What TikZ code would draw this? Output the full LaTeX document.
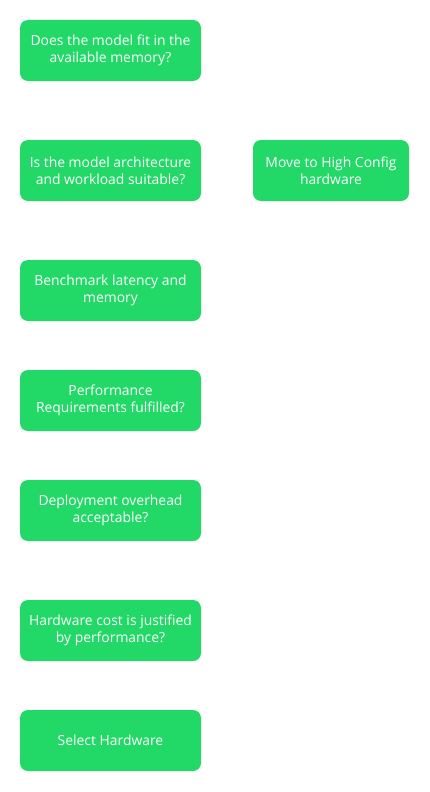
\documentclass[tikz,border=0pt]{standalone}
\usepackage{fontspec}
\setmainfont{Open Sans}
\usepackage{xcolor}
\usetikzlibrary{positioning}
\definecolor{boxgreen}{HTML}{22D866}
\tikzset{
    greenbox/.style={rectangle, rounded corners=8pt, fill=boxgreen, text=white,
        minimum width=181pt, minimum height=61pt, inner sep=0pt, align=center,
        font=\fontsize{13.9}{17}\selectfont}
}
\begin{document}
\begin{tikzpicture}[x=1pt, y=-1pt]
    \useasboundingbox (0,0) rectangle (430,792);

    % left column of steps
    \foreach \name/\y/\txt in {
        fit/50.5/{Does the model fit in the\\available memory?},
        arch/170.5/{Is the model architecture\\and workload suitable?},
        bench/290.5/{Benchmark latency and\\memory},
        perf/400.5/{Performance\\Requirements fulfilled?},
        deploy/510.5/{Deployment overhead\\acceptable?},
        cost/630.5/{Hardware cost is justified\\by performance?},
        select/740.5/{Select Hardware}}
    {
        \node[greenbox] (\name) at (110.5, \y) {\txt};
    }

    % right box
    \node[greenbox, minimum width=156pt] (high) at (331, 170.5) {Move to High Config\\hardware};
\end{tikzpicture}
\end{document}
